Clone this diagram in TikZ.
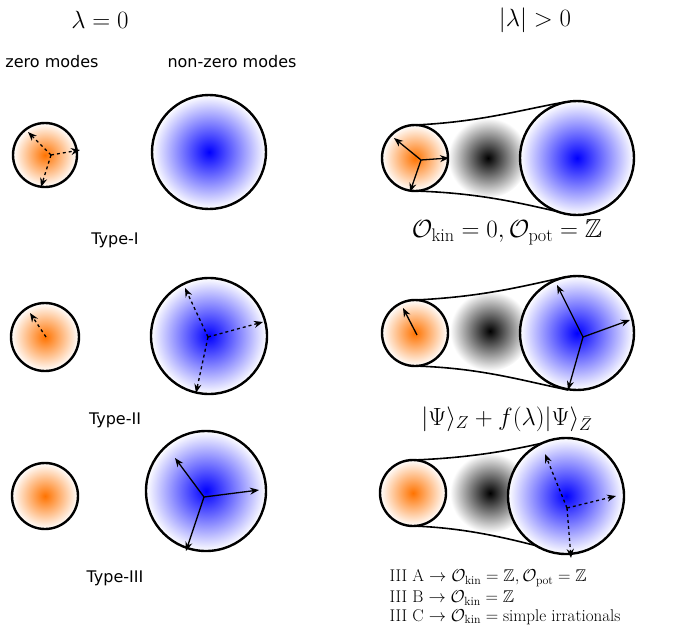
\documentclass[tikz,border=0pt]{standalone}
\usepackage{fontspec}
\setsansfont{DejaVu Sans}
\usepackage{amssymb}
\usetikzlibrary{shapes.geometric,arrows.meta}
\begin{document}
\begin{tikzpicture}[x=1pt,y=-1pt,
 orb/.style={circle,draw,line width=2.4pt,minimum size=#1,inner sep=0},
 orng/.style={orb=#1,shading=radial,inner color=orange!90!red,outer color=white},
 blu/.style={orb=#1,shading=radial,inner color=blue,outer color=white},
 blob/.style={ellipse,minimum width=80,minimum height=80,inner sep=0,shading=radial,inner color=black,outer color=white},
 da/.style={-{Stealth[length=9pt,width=7pt]},dashed,line width=1.3pt},
 sa/.style={-{Stealth[length=9pt,width=7pt]},line width=1.3pt},
 lk/.style={line width=1.6pt},
 lab/.style={font=\sffamily\fontsize{16}{18}\selectfont},
 ttl/.style={font=\fontsize{38}{40}\selectfont},
 frm/.style={font=\fontsize{26}{28}\selectfont},
 sml/.style={font=\fontsize{17}{18}\selectfont,anchor=west}]
\useasboundingbox (0,0) rectangle (693,629);
% titles
\node[ttl] (t1) at (100,20) {$\lambda=0$};
\node[ttl] (t2) at (535,20) {$|\lambda|>0$};
\node[lab] (zm) at (52,62) {zero modes};
\node[lab] (nzm) at (232,62) {non-zero modes};
% Row 1 left
\node[orng=64] (o1) at (45,155) {};
\node[blu=114] (b1) at (209,152) {};
\coordinate (c1) at (51,155);
\draw[da] (c1) -- (28,132); \draw[da] (c1) -- (80,150); \draw[da] (c1) -- (41,187);
\node[lab] (ty1) at (115,240) {Type-I};
% Row 1 right
\node[blob] (g1) at (488,158) {};
\draw[lk] (415,125) .. controls (480,122) and (520,110) .. (565,102);
\draw[lk] (415,191) .. controls (480,193) and (520,203) .. (568,214);
\node[orng=66] (o1r) at (415,158) {};
\node[blu=114] (b1r) at (577,158) {};
\coordinate (c1r) at (421,160);
\draw[sa] (c1r) -- (394,138); \draw[sa] (c1r) -- (449,158); \draw[sa] (c1r) -- (410,192);
\node[frm] (f1) at (507,232) {$\mathcal{O}_{\rm kin}=0,\mathcal{O}_{\rm pot}=\mathbb{Z}$};
% Row 2 left
\node[orng=68] (o2) at (45,337) {};
\draw[da] (46,337) -- (30,313);
\node[blu=116] (b2) at (209,336) {};
\coordinate (c2) at (208,337);
\draw[da] (c2) -- (185,288); \draw[da] (c2) -- (263,322); \draw[da] (c2) -- (196,393);
\node[lab] (ty2) at (115,420) {Type-II};
% Row 2 right
\node[blob] (g2) at (490,331) {};
\draw[lk] (415,300) .. controls (480,297) and (520,287) .. (565,277);
\draw[lk] (415,366) .. controls (480,368) and (520,380) .. (568,390);
\node[orng=66] (o2r) at (415,333) {};
\draw[sa] (417,335) -- (403,308);
\node[blu=114] (b2r) at (577,333) {};
\coordinate (c2r) at (583,337);
\draw[sa] (c2r) -- (557,285); \draw[sa] (c2r) -- (630,320); \draw[sa] (c2r) -- (568,390);
\node[frm] (f2) at (507,419) {$|\Psi\rangle_Z+f(\lambda)|\Psi\rangle_{\bar Z}$};
% Row 3 left
\node[orng=66] (o3) at (45,496) {};
\node[blu=120] (b3) at (206,491) {};
\coordinate (c3) at (204,497);
\draw[sa] (c3) -- (175,458); \draw[sa] (c3) -- (259,490); \draw[sa] (c3) -- (186,551);
\node[lab] (ty3) at (115,578) {Type-III};
% Row 3 right
\node[blob] (g3) at (490,493) {};
\draw[lk] (413,460) .. controls (470,458) and (515,450) .. (555,440);
\draw[lk] (413,526) .. controls (470,528) and (515,540) .. (560,552);
\node[orng=66] (o3r) at (413,493) {};
\node[blu=116] (b3r) at (566,496) {};
\coordinate (c3r) at (567,508);
\draw[da] (c3r) -- (545,454); \draw[da] (c3r) -- (616,496); \draw[da] (c3r) -- (571,558);
\node[sml] (l1) at (386,578) {III A $\rightarrow\mathcal{O}_{\rm kin}=\mathbb{Z},\mathcal{O}_{\rm pot}=\mathbb{Z}$};
\node[sml] (l2) at (386,598) {III B $\rightarrow\mathcal{O}_{\rm kin}=\mathbb{Z}$};
\node[sml] (l3) at (386,617) {III C $\rightarrow\mathcal{O}_{\rm kin}=\mathrm{simple\ irrationals}$};
\end{tikzpicture}
\end{document}
